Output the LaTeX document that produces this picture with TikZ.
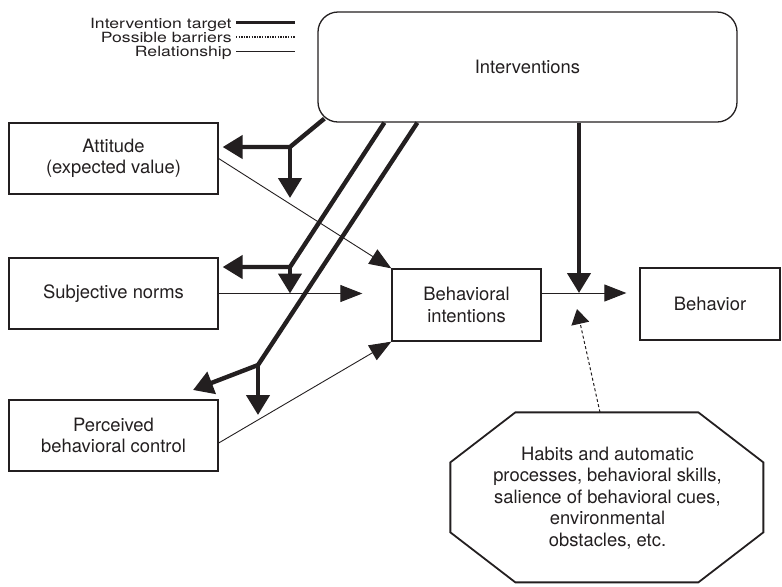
\documentclass[tikz,border=0pt]{standalone}
\usepackage{fontspec}
\setmainfont{TeX Gyre Heros}
\usepackage{graphicx}
\usepackage{tikz}
\usetikzlibrary{arrows.meta, calc}
\definecolor{tpbink}{RGB}{35, 31, 32}
\newcommand{\legtext}[1]{\scalebox{1}[0.8]{#1}}

\begin{document}
\begin{tikzpicture}[
    x=0.5pt, y=-0.5pt,
    box/.style={rectangle, draw=tpbink, line width=0.65pt,
                minimum width=104.5pt, minimum height=35.5pt, inner sep=1pt,
                align=center, text=tpbink, font=\fontsize{9.2}{10.7}\selectfont},
    legtxt/.style={anchor=base east, inner sep=0pt, text=tpbink,
                   font=\fontsize{8.8}{9}\selectfont},
    target/.style={-{Triangle[length=10pt, width=11.5pt]}, line width=2.2pt, draw=tpbink},
    rel/.style={-{Triangle[length=11pt, width=8.5pt]}, line width=0.45pt, draw=tpbink},
    barrier/.style={-{Triangle[length=7.5pt, width=9pt]}, line width=0.5pt, draw=tpbink,
                    dash pattern=on 1.5pt off 1.2pt},
  ]
  \useasboundingbox (0,0) rectangle (782,586);

  % ── Legend ───────────────────────────────────────
  \node[legtxt] (lgt) at (232,28)   {\legtext{Intervention target}};
  \node[legtxt] (lgb) at (232,42.5) {\legtext{Possible barriers}};
  \node[legtxt] (lgr) at (232,56.7) {\legtext{Relationship}};
  \draw[tpbink, line width=1.5pt] ($(lgt.base east)+(4,-5.5)$) -- ++(59,0);
  \draw[tpbink, line width=1.2pt, dash pattern=on 0.7pt off 0.6pt]
        ($(lgb.base east)+(4,-5.5)$) -- ++(59,0);
  \draw[tpbink, line width=0.5pt] ($(lgr.base east)+(4,-5.5)$) -- ++(59,0);

  % ── Boxes ────────────────────────────────────────
  \node[box, minimum width=209.5pt, minimum height=55pt, rounded corners=10pt]
        (iv)  at (527.5,67)    {Interventions};
  \node[box] (att) at (113.5,158.5) {Attitude\\(expected value)};
  \node[box] (sn)  at (113.5,293.5) {Subjective norms};
  \node[box] (pbc) at (113.5,435.5) {Perceived\\behavioral control};
  \node[box, minimum width=74.5pt, minimum height=36pt]
        (bi)  at (466.5,305)   {Behavioral\\intentions};
  \node[box, minimum width=70pt, minimum height=36pt]
        (beh) at (710,304)     {Behavior};
  \node[box, draw=none, minimum width=156.5pt, minimum height=85pt]
        (habits) at (607.5,498)
        {Habits and automatic\\processes, behavioral skills,\\salience of behavioral cues,\\environmental\\obstacles, etc.};
  \draw[tpbink, line width=0.9pt]
        ($(habits.north west)+(65,0)$)  -- ($(habits.north west)+(248,0)$)
     -- ($(habits.north west)+(313,50)$) -- ($(habits.north west)+(313,120)$)
     -- ($(habits.north west)+(248,170)$) -- ($(habits.north west)+(65,170)$)
     -- ($(habits.north west)+(0,120)$)  -- ($(habits.north west)+(0,50)$) -- cycle;

  % ── Junctions and tips ───────────────────────────
  \coordinate (j1)  at (290,147);
  \coordinate (j2)  at (290,267);
  \coordinate (j3)  at (258,365);
  \coordinate (mod) at (579,293);
  \coordinate (t1)  at (290,198);
  \coordinate (t3a) at (193,390);
  \coordinate (t3b) at (258,415);
  \coordinate (bartip) at (577,309);

  % ── Intervention targets ─────────────────────────
  \draw[target] ($(iv.south west)+(7,-4)$) -- (j1) -- ($(att.east |- j1)+(4,0)$);
  \draw[target] (j1) -- (t1);
  \draw[target] ($(iv.south west)+(67,0)$) -- (j2) -- ($(sn.east |- j2)+(4,0)$);
  \draw[target] (j2) -- (j2 |- sn.east);
  \draw[target] ($(iv.south west)+(100,0)$) -- (j3) -- (t3a);
  \draw[target] (j3) -- (t3b);
  \draw[target] (iv.south -| mod) -- (mod);

  % ── Relationships ────────────────────────────────
  \draw[rel] (att.east) -- (bi.north west);
  \draw[rel] (sn.east) -- ($(bi.west |- sn.east)+(-29,0)$);
  \draw[rel] ($(pbc.east)+(0,7.5)$) -- (bi.south west);
  \draw[rel] (bi.east |- mod) -- ($(beh.west |- mod)+(-13,0)$);

  % ── Possible barriers ────────────────────────────
  \draw[barrier] ($(habits.north)+(-7.5,0)$) -- (bartip);

\end{tikzpicture}
\end{document}
